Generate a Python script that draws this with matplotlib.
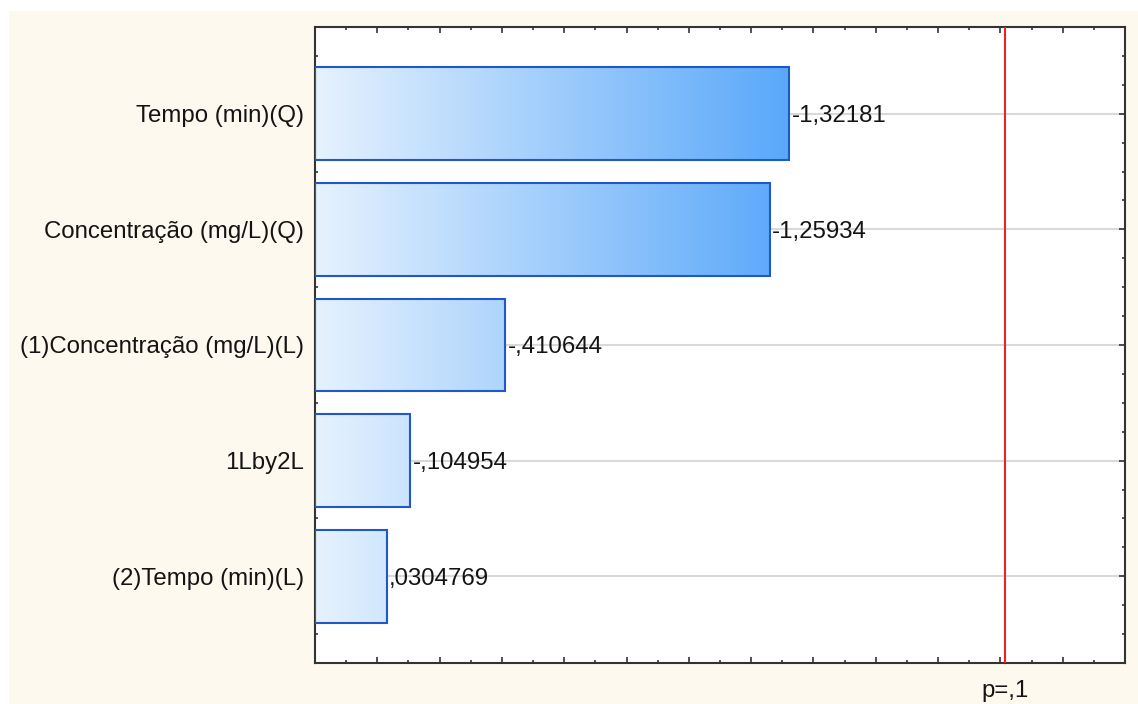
import numpy as np
import matplotlib
matplotlib.use("Agg")
import matplotlib.pyplot as plt
from matplotlib.colors import LinearSegmentedColormap, Normalize
from matplotlib.patches import Rectangle
from matplotlib.ticker import MultipleLocator

# Pareto chart of standardized effects
categories = ["Tempo (min)(Q)", "Concentração (mg/L)(Q)",
              "(1)Concentração (mg/L)(L)", "1Lby2L", "(2)Tempo (min)(L)"]
effects = [-1.32181, -1.25934, -0.410644, -0.104954, 0.0304769]
p_value = 2.015
p_label = "p=,1"


def statistica_fmt(v):
    s = f"{v:.6g}"
    s = s.replace("-0.", "-.")
    if s.startswith("0."):
        s = s[1:]
    return s.replace(".", ",")


plt.rcParams['font.family'] = ['Liberation Sans', 'DejaVu Sans']
fs = 17.3
txt_color = "#141414"

fig = plt.figure(figsize=(11.38, 7.04), dpi=100)
fig.patch.set_facecolor("white")
fig.patches.append(Rectangle((9 / 1138, 0), 1, (704 - 11) / 704,
                             transform=fig.transFigure, facecolor="#FEF9EE",
                             edgecolor="none", zorder=-10))

ax = fig.add_axes([315 / 1138, 1 - 663 / 704, 810 / 1138, 636 / 704])
ax.set_facecolor("white")

xmin, xmax = -0.2, 2.4
cmap = LinearSegmentedColormap.from_list("bars", ["#E6F2FE", "#5AA8FA"])
norm = Normalize(vmin=xmin, vmax=max(abs(v) for v in effects))
bar_h = 0.8

for i, v in enumerate(effects):
    end = abs(v)
    xs = np.linspace(xmin, end, 200)[None, :]
    ax.imshow(xs, cmap=cmap, norm=norm, aspect="auto", interpolation="bilinear",
              extent=[xmin, end, i + bar_h / 2, i - bar_h / 2], zorder=2)
    ax.add_patch(Rectangle((xmin, i - bar_h / 2), end - xmin, bar_h,
                           fill=False, edgecolor="#2058C8", linewidth=1.5, zorder=3))
    ax.text(end + 0.008, i, statistica_fmt(v), va="center_baseline", ha="left",
            fontsize=fs, color=txt_color, zorder=4)

for i in range(len(categories)):
    ax.axhline(i, color="#D9D9D9", linewidth=1.5, zorder=1)

ax.axvline(p_value, color="#F02020", linewidth=1.5, zorder=4)

ax.set_xlim(xmin, xmax)
ax.set_ylim(len(categories) - 0.25, -0.75)

ax.set_yticks(range(len(categories)))
ax.set_yticklabels(categories, fontsize=fs, color=txt_color)
ax.yaxis.set_minor_locator(MultipleLocator(0.25))
ax.xaxis.set_major_locator(MultipleLocator(0.2))
ax.xaxis.set_minor_locator(MultipleLocator(0.1))
ax.set_xticklabels([])

ax.tick_params(which="both", direction="in", top=True, right=True,
               color="#333333", width=1.2)
ax.tick_params(which="major", length=4)
ax.tick_params(which="minor", length=2)
ax.tick_params(axis="y", which="major", pad=8, labelsize=fs)

for s in ax.spines.values():
    s.set_color("#333333")
    s.set_linewidth(1.5)

ax.text(p_value, -(691 - 663) / 636, p_label, transform=ax.get_xaxis_transform(),
        ha="center", va="center", fontsize=fs, color=txt_color)

fig.savefig("out.png", dpi=100)
